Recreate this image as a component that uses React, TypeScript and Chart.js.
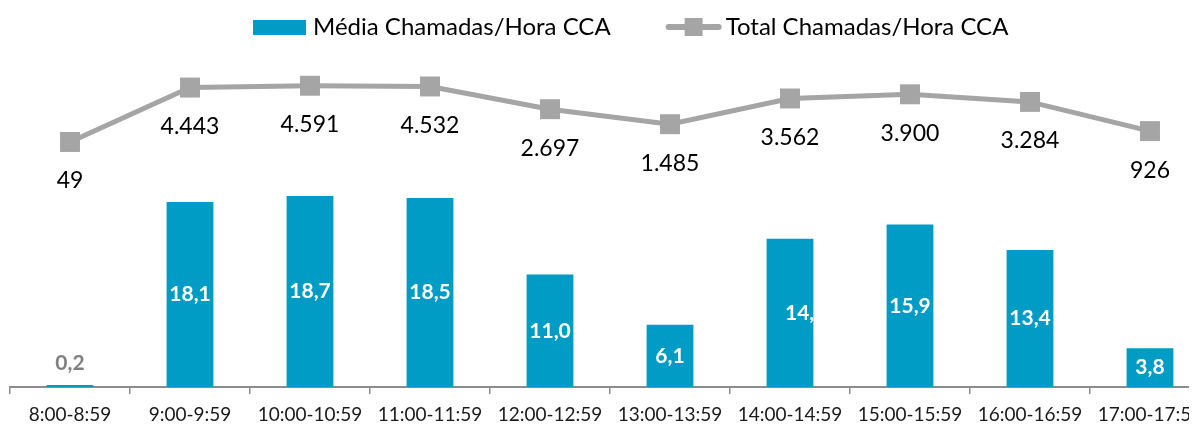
import React, { useEffect, useRef } from "react";
import { Chart, registerables } from "chart.js";

Chart.register(...registerables);

// ---- data ----
const categories = [
  "8:00-8:59",
  "9:00-9:59",
  "10:00-10:59",
  "11:00-11:59",
  "12:00-12:59",
  "13:00-13:59",
  "14:00-14:59",
  "15:00-15:59",
  "16:00-16:59",
  "17:00-17:59",
];
const mediaChamadas = [0.2, 18.1, 18.7, 18.5, 11.0, 6.1, 14.5, 15.9, 13.4, 3.8];
const totalChamadas = [49, 4443, 4591, 4532, 2697, 1485, 3562, 3900, 3284, 926];
const seriesNames = ["Média Chamadas/Hora CCA", "Total Chamadas/Hora CCA"];

// ---- style ----
const BAR_COLOR = "#009CC6";
const LINE_COLOR = "#A5A5A5";
const FONT = "Lato, 'Open Sans', sans-serif";
const CLIPPED_LABEL_INDEX = 6;

const fmtDec = (v: number) => v.toFixed(1).replace(".", ",");
const fmtInt = (v: number) =>
  String(Math.round(v)).replace(/\B(?=(\d{3})+(?!\d))/g, ".");

const valueLabelsPlugin = {
  id: "valueLabels",
  afterDatasetsDraw(chart: any) {
    const ctx = chart.ctx;
    const barMeta = chart.getDatasetMeta(0);
    barMeta.data.forEach((bar: any, i: number) => {
      const { x, y, base, width } = bar.getProps(["x", "y", "base", "width"], true);
      const text = fmtDec(mediaChamadas[i]);
      const h = base - y;
      ctx.save();
      ctx.font = `bold 21px ${FONT}`;
      ctx.textBaseline = "middle";
      if (h < 24) {
        ctx.fillStyle = "#7F7F7F";
        ctx.textAlign = "center";
        ctx.fillText(text, x, y - 22);
      } else if (i === CLIPPED_LABEL_INDEX) {
        ctx.beginPath();
        ctx.rect(x - width / 2, y, width, h);
        ctx.clip();
        ctx.fillStyle = "#FFFFFF";
        ctx.textAlign = "left";
        ctx.fillText(text, x - 5, (y + base) / 2);
      } else {
        ctx.fillStyle = "#FFFFFF";
        ctx.textAlign = "center";
        ctx.fillText(text, x, (y + base) / 2);
      }
      ctx.restore();
    });

    const lineMeta = chart.getDatasetMeta(1);
    lineMeta.data.forEach((pt: any, i: number) => {
      ctx.save();
      ctx.font = `23px ${FONT}`;
      ctx.textBaseline = "middle";
      ctx.textAlign = "center";
      ctx.fillStyle = "#000000";
      ctx.fillText(fmtInt(totalChamadas[i]), pt.x, pt.y + 39);
      ctx.restore();
    });
  },
};

const legendPlugin = {
  id: "customLegend",
  afterDraw(chart: any) {
    const ctx = chart.ctx;
    ctx.save();
    ctx.font = `24px ${FONT}`;
    ctx.textBaseline = "alphabetic";
    ctx.textAlign = "left";
    const baseY = 27;
    const midY = 19;
    let x = 245;
    ctx.fillStyle = BAR_COLOR;
    ctx.fillRect(x, 12, 53, 15);
    x += 53 + 7;
    ctx.fillStyle = "#000000";
    ctx.fillText(seriesNames[0], x, baseY);
    x += ctx.measureText(seriesNames[0]).width + 55;
    ctx.strokeStyle = LINE_COLOR;
    ctx.lineWidth = 6;
    ctx.lineCap = "round";
    ctx.beginPath();
    ctx.moveTo(x + 3, midY);
    ctx.lineTo(x + 53, midY);
    ctx.stroke();
    ctx.fillStyle = LINE_COLOR;
    ctx.fillRect(x + 19, midY - 9, 18, 18);
    x += 56 + 4;
    ctx.fillStyle = "#000000";
    ctx.fillText(seriesNames[1], x, baseY);
    ctx.restore();
  },
};

export default function App() {
  const canvasRef = useRef<HTMLCanvasElement | null>(null);

  useEffect(() => {
    if (!canvasRef.current) return;
    const chart = new Chart(canvasRef.current, {
      type: "bar",
      data: {
        labels: categories,
        datasets: [
          {
            type: "bar",
            label: seriesNames[0],
            data: mediaChamadas,
            backgroundColor: BAR_COLOR,
            borderWidth: 0,
            barPercentage: 0.39,
            categoryPercentage: 1,
            yAxisID: "y",
            order: 2,
          },
          {
            type: "line",
            label: seriesNames[1],
            data: totalChamadas,
            borderColor: LINE_COLOR,
            borderWidth: 5,
            tension: 0,
            pointStyle: "rect",
            pointRadius: 14.1,
            pointBorderWidth: 0,
            pointBackgroundColor: LINE_COLOR,
            yAxisID: "y1",
            order: 1,
          } as any,
        ],
      },
      options: {
        responsive: false,
        animation: false,
        layout: { autoPadding: false, padding: { top: 52, left: 2, right: 8, bottom: 0 } },
        plugins: {
          legend: { display: false },
          tooltip: { enabled: false },
        },
        scales: {
          x: {
            offset: true,
            grid: {
              display: true,
              offset: true,
              drawOnChartArea: false,
              drawTicks: true,
              tickLength: 7,
              color: "#8C8C8C",
              lineWidth: 1.5,
            },
            border: { display: true, color: "#8C8C8C", width: 2 },
            ticks: {
              color: "#1A1A1A",
              font: { family: FONT, size: 19 },
              padding: 9,
              maxRotation: 0,
              autoSkip: false,
            },
            afterFit: (scale: any) => {
              scale.height = 37;
            },
          },
          y: { display: false, min: 0, max: 32 },
          y1: { display: false, min: -19740, max: 6670, position: "right" },
        },
      } as any,
      plugins: [valueLabelsPlugin, legendPlugin],
    });
    return () => chart.destroy();
  }, []);

  return (
    <div style={{ width: 1189, height: 416, overflow: "hidden" }}>
      <canvas ref={canvasRef} width={1210} height={416} style={{ display: "block" }} />
    </div>
  );
}
